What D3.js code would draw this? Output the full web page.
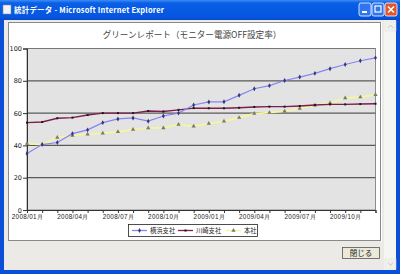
<!DOCTYPE html>
<html>
  <head>
    <meta charset="utf-8" />
    <title>グリーンレポート</title>
    <script src="https://d3js.org/d3.v7.min.js"></script>
    <style>
      body {
        margin: 0;
        background: #ffffff;
      }

      svg {
        display: block;
        font-family: "Noto Sans CJK JP", "DejaVu Sans", sans-serif;
      }
    </style>
  </head>

  <body>
    <svg id="chart"></svg>
    <script>
      // data
      const months = [
        "2008/01", "2008/02", "2008/03", "2008/04", "2008/05", "2008/06",
        "2008/07", "2008/08", "2008/09", "2008/10", "2008/11", "2008/12",
        "2009/01", "2009/02", "2009/03", "2009/04", "2009/05", "2009/06",
        "2009/07", "2009/08", "2009/09", "2009/10", "2009/11", "2009/12"
      ];
      const labeledMonths = ["2008/01", "2008/04", "2008/07", "2008/10", "2009/01", "2009/04", "2009/07", "2009/10"];
      const yTicks = [0, 20, 40, 60, 80, 100];

      const yokohama = [35, 40.5, 41.8, 47.3, 49.6, 54.1, 56.4, 57, 55, 58.2, 60, 65,
        66.9, 67, 71, 75.1, 77, 80.2, 82.3, 84.6, 87.5, 90.1, 92.4, 94.2];
      const kawasaki = [54.1, 54.5, 56.8, 57.2, 58.8, 60, 60, 60, 61.3, 61, 62, 63.1,
        63, 63, 63.3, 63.8, 64, 64, 64.4, 65, 65.4, 65.4, 65.6, 65.8];
      const honsha = [41.1, 40.5, 44.9, 46.1, 46.9, 47.5, 48.4, 49.8, 50.8, 50.8, 52.9, 51.9,
        53.5, 54.9, 57.2, 59.7, 60.3, 61.1, 62.8, 64.8, 66.2, 69.3, 69.9, 71.4];

      const seriesNames = ["横浜支社", "川崎支社", "本社"];

      const W = 400, H = 274;
      const svg = d3.select("#chart").attr("width", W).attr("height", H);

      // ---- window chrome ----
      const defs = svg.append("defs");
      const tg = defs.append("linearGradient").attr("id", "titleGrad")
        .attr("x1", 0).attr("y1", 0).attr("x2", 0).attr("y2", 1);
      tg.append("stop").attr("offset", "0%").attr("stop-color", "#3d8cf5");
      tg.append("stop").attr("offset", "15%").attr("stop-color", "#0a5fe6");
      tg.append("stop").attr("offset", "85%").attr("stop-color", "#0456e0");
      tg.append("stop").attr("offset", "100%").attr("stop-color", "#0a47c9");

      svg.append("rect").attr("width", W).attr("height", H).attr("fill", "#0b4fd8");
      svg.append("rect").attr("width", W).attr("height", 20).attr("fill", "url(#titleGrad)");
      // client area
      svg.append("rect").attr("x", 4).attr("y", 20).attr("width", 392).attr("height", 250)
        .attr("fill", "#ebeae6");

      // title icon
      svg.append("rect").attr("x", 3).attr("y", 5).attr("width", 8).attr("height", 9)
        .attr("fill", "#f4f4f4").attr("stroke", "#7a8fb0").attr("stroke-width", 0.6);
      svg.append("text").attr("x", 14).attr("y", 13)
        .attr("fill", "#ffffff").attr("font-size", 7.5).attr("font-weight", "bold")
        .attr("letter-spacing", 0.2)
        .text("統計データ - Microsoft Internet Explorer");

      // title buttons
      const btns = [
        { x: 359, fill: "#2f74f0", kind: "min" },
        { x: 372, fill: "#2f74f0", kind: "max" },
        { x: 385, fill: "#e0552c", kind: "close" }
      ];
      btns.forEach(b => {
        svg.append("rect").attr("x", b.x).attr("y", 3).attr("width", 12).attr("height", 13)
          .attr("rx", 2).attr("fill", b.fill).attr("stroke", "#ffffff").attr("stroke-width", 0.8);
        if (b.kind === "min") {
          svg.append("rect").attr("x", b.x + 3).attr("y", 11).attr("width", 5).attr("height", 2).attr("fill", "#fff");
        } else if (b.kind === "max") {
          svg.append("rect").attr("x", b.x + 3).attr("y", 6).attr("width", 6).attr("height", 6)
            .attr("fill", "none").attr("stroke", "#fff").attr("stroke-width", 1.2);
        } else {
          svg.append("path").attr("d", `M${b.x + 3},6.5L${b.x + 9},12.5M${b.x + 9},6.5L${b.x + 3},12.5`)
            .attr("stroke", "#fff").attr("stroke-width", 1.6);
        }
      });

      // scrollbar
      svg.append("rect").attr("x", 384).attr("y", 20).attr("width", 12).attr("height", 250).attr("fill", "#f5f5f1");
      svg.append("rect").attr("x", 385).attr("y", 21).attr("width", 11).attr("height", 10).attr("fill", "#f0f0ee")
        .attr("stroke", "#e2e2dc").attr("stroke-width", 0.5);
      svg.append("rect").attr("x", 385).attr("y", 259).attr("width", 11).attr("height", 10).attr("fill", "#f0f0ee")
        .attr("stroke", "#e2e2dc").attr("stroke-width", 0.5);
      svg.append("path").attr("d", "M388,28L390.5,25L393,28").attr("fill", "none").attr("stroke", "#c8c8c0");
      svg.append("path").attr("d", "M388,262.5L390.5,265.5L393,262.5").attr("fill", "none").attr("stroke", "#c8c8c0");

      // white chart panel
      svg.append("rect").attr("x", 8.5).attr("y", 22.5).attr("width", 372).attr("height", 218)
        .attr("fill", "#ffffff").attr("stroke", "#8a8a8a");
      svg.append("line").attr("x1", 381.5).attr("x2", 381.5).attr("y1", 22).attr("y2", 242).attr("stroke", "#ffffff");

      // close button
      svg.append("rect").attr("x", 342.5).attr("y", 247.5).attr("width", 37).attr("height", 11)
        .attr("fill", "#ece9d8").attr("stroke", "#555").attr("stroke-width", 0.8);
      svg.append("text").attr("x", 361).attr("y", 256).attr("text-anchor", "middle")
        .attr("font-size", 7.5).attr("fill", "#222").text("閉じる");

      // ---- chart ----
      const x = d3.scalePoint().domain(months).range([27, 375.5]);
      const y = d3.scaleLinear().domain([0, 100]).range([210, 48.5]);

      svg.append("text").attr("x", 192).attr("y", 38).attr("text-anchor", "middle")
        .attr("font-size", 8.6).attr("fill", "#444")
        .text("グリーンレポート（モニター電源OFF設定率）");

      svg.append("rect").attr("x", 27).attr("y", y(100)).attr("width", 375.5 - 27)
        .attr("height", y(0) - y(100)).attr("fill", "#e3e3e3")
        .attr("stroke", "#8c8c8c").attr("stroke-width", 1);

      // grid lines
      svg.append("g").selectAll("line").data(yTicks.filter(d => d > 0 && d < 100)).join("line")
        .attr("x1", 27).attr("x2", 375.5)
        .attr("y1", d => y(d)).attr("y2", d => y(d))
        .attr("stroke", "#5a5a5a").attr("stroke-width", 1.3);
      svg.append("line").attr("x1", 27).attr("x2", 375.5).attr("y1", y(100)).attr("y2", y(100))
        .attr("stroke", "#777").attr("stroke-width", 1);

      // y axis
      const gy = svg.append("g").attr("transform", "translate(27,0)")
        .call(d3.axisLeft(y).tickValues(yTicks).tickSize(4).tickPadding(1));
      gy.select(".domain").attr("stroke", "#333");
      gy.selectAll(".tick line").attr("stroke", "#333");
      gy.selectAll("text").attr("font-size", 6.5).attr("fill", "#222")
        .attr("font-family", "'DejaVu Sans', sans-serif");

      // x axis
      const gx = svg.append("g").attr("transform", `translate(0,${y(0)})`)
        .call(d3.axisBottom(x).tickSize(3).tickPadding(2)
          .tickFormat(d => (labeledMonths.includes(d) ? d + "月" : "")));
      gx.select(".domain").attr("stroke", "#333");
      gx.selectAll(".tick line").attr("stroke", "#333");
      gx.selectAll("text").attr("font-size", 6.3).attr("fill", "#222").attr("letter-spacing", 0.35);

      const line = d3.line().x((d, i) => x(months[i])).y(d => y(d));

      // 本社
      svg.append("path").datum(honsha).attr("d", line).attr("fill", "none")
        .attr("stroke", "#f7f79a").attr("stroke-width", 1.6);
      svg.append("g").selectAll("path").data(honsha).join("path")
        .attr("d", d3.symbol(d3.symbolTriangle, 8))
        .attr("transform", (d, i) => `translate(${x(months[i])},${y(d)})`)
        .attr("fill", "#7a7a6c");

      // 川崎支社
      svg.append("path").datum(kawasaki).attr("d", line).attr("fill", "none")
        .attr("stroke", "#7d1d4e").attr("stroke-width", 1.4);
      svg.append("g").selectAll("rect").data(kawasaki).join("rect")
        .attr("x", (d, i) => x(months[i]) - 1).attr("y", d => y(d) - 1)
        .attr("width", 2).attr("height", 2).attr("fill", "#1a1a1a");

      // 横浜支社
      svg.append("path").datum(yokohama).attr("d", line).attr("fill", "none")
        .attr("stroke", "#8585f2").attr("stroke-width", 1.2);
      svg.append("g").selectAll("path").data(yokohama).join("path")
        .attr("d", d3.symbol(d3.symbolDiamond, 7))
        .attr("transform", (d, i) => `translate(${x(months[i])},${y(d)})`)
        .attr("fill", "#35357a");

      // legend
      const legend = svg.append("g");
      legend.append("rect").attr("x", 128.5).attr("y", 224.5).attr("width", 129).attr("height", 12)
        .attr("fill", "#ffffff").attr("stroke", "#222").attr("stroke-width", 0.8);
      const legendItems = [
        { name: seriesNames[0], x: 132, color: "#8585f2", mark: "diamond" },
        { name: seriesNames[1], x: 178, color: "#7d1d4e", mark: "square" },
        { name: seriesNames[2], x: 226, color: "#f7f79a", mark: "triangle" }
      ];
      legendItems.forEach(it => {
        legend.append("line").attr("x1", it.x).attr("x2", it.x + 15).attr("y1", 230.5).attr("y2", 230.5)
          .attr("stroke", it.color).attr("stroke-width", 1.3);
        const cx = it.x + 7.5;
        if (it.mark === "diamond") {
          legend.append("path").attr("d", d3.symbol(d3.symbolDiamond, 7))
            .attr("transform", `translate(${cx},230.5)`).attr("fill", "#35357a");
        } else if (it.mark === "square") {
          legend.append("rect").attr("x", cx - 1).attr("y", 229.5).attr("width", 2).attr("height", 2)
            .attr("fill", "#1a1a1a");
        } else {
          legend.append("path").attr("d", d3.symbol(d3.symbolTriangle, 8))
            .attr("transform", `translate(${cx},230.5)`).attr("fill", "#7a7a6c");
        }
        legend.append("text").attr("x", it.x + 18).attr("y", 233).attr("font-size", 6.3)
          .attr("fill", "#222").text(it.name);
      });
    </script>
  </body>
</html>
